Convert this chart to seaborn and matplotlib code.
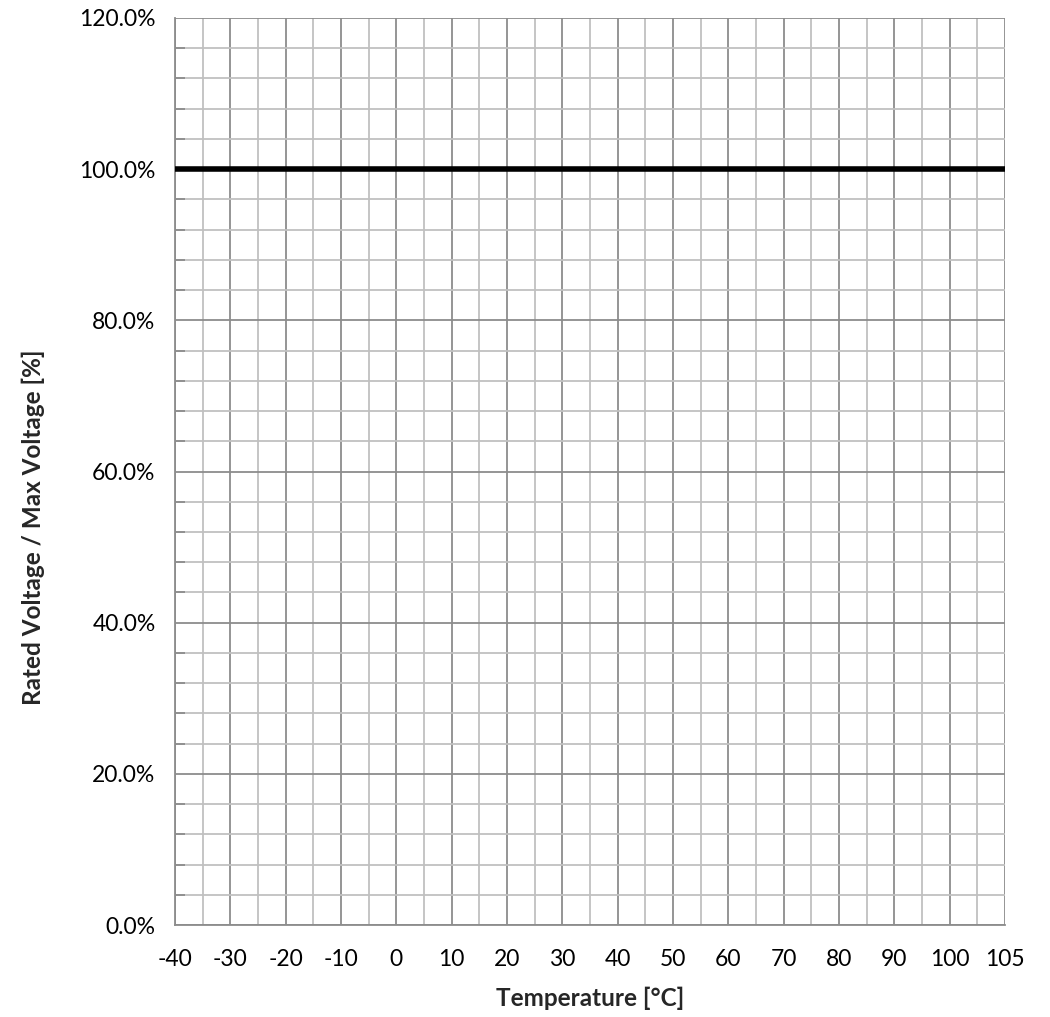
import matplotlib
matplotlib.use("Agg")
import matplotlib.pyplot as plt
import seaborn as sns
import pandas as pd
from matplotlib.ticker import FixedLocator, MultipleLocator, FuncFormatter

temperature_labels = ["-40", "-30", "-20", "-10", "0", "10", "20", "30", "40",
                      "50", "60", "70", "80", "90", "100", "105"]
rated_ratio = [100.0] * 16
y_ticks = [0, 20, 40, 60, 80, 100, 120]

sns.set_theme(style="white")
plt.rcParams['font.family'] = ['Lato', 'DejaVu Sans']

df = pd.DataFrame({"pos": list(range(len(temperature_labels))),
                   "Temperature": temperature_labels, "Ratio": rated_ratio})

fig = plt.figure(figsize=(10.5, 10.17), dpi=100)
ax = fig.add_axes([175/1050, 1-925/1017, (1005-175)/1050, (925-18)/1017])

sns.lineplot(data=df, x="pos", y="Ratio", color="black", linewidth=4, ax=ax, zorder=5)

n = len(temperature_labels)
ax.set_xlim(0, n - 1)
ax.set_ylim(0, 120)
ax.xaxis.set_major_locator(FixedLocator(list(range(n))))
ax.set_xticklabels(temperature_labels)
ax.xaxis.set_minor_locator(MultipleLocator(0.5))
ax.yaxis.set_major_locator(FixedLocator(y_ticks))
ax.yaxis.set_minor_locator(MultipleLocator(4))
ax.yaxis.set_major_formatter(FuncFormatter(lambda v, p: f"{v:.1f}%"))

ax.grid(which="major", color="#8c8c8c", linewidth=1.3)
ax.grid(which="minor", color="#c0c0c0", linewidth=1.3)
ax.set_axisbelow(True)

for s in ["top", "right"]:
    ax.spines[s].set_visible(False)
for s in ["left", "bottom"]:
    ax.spines[s].set_color("#8c8c8c")
    ax.spines[s].set_linewidth(1.3)

ax.tick_params(axis="both", which="major", direction="out", length=8, width=1.3,
               color="#8c8c8c", labelsize=16.5, labelcolor="black", pad=9)
ax.tick_params(axis="y", which="minor", direction="in", length=7, width=1.3, color="#8c8c8c", left=True)
ax.tick_params(axis="x", which="minor", length=0)
ax.tick_params(axis="y", which="major", pad=6)

ax.set_xlabel("Temperature [°C]", fontsize=17.5, fontweight="bold", labelpad=12)
ax.set_ylabel("Rated Voltage / Max Voltage [%]", fontsize=17.5, fontweight="bold", va="center")
ax.yaxis.set_label_coords((33 - 175) / 830, (925 - 527) / 907)

fig.savefig("out.png", dpi=100, facecolor="white")
